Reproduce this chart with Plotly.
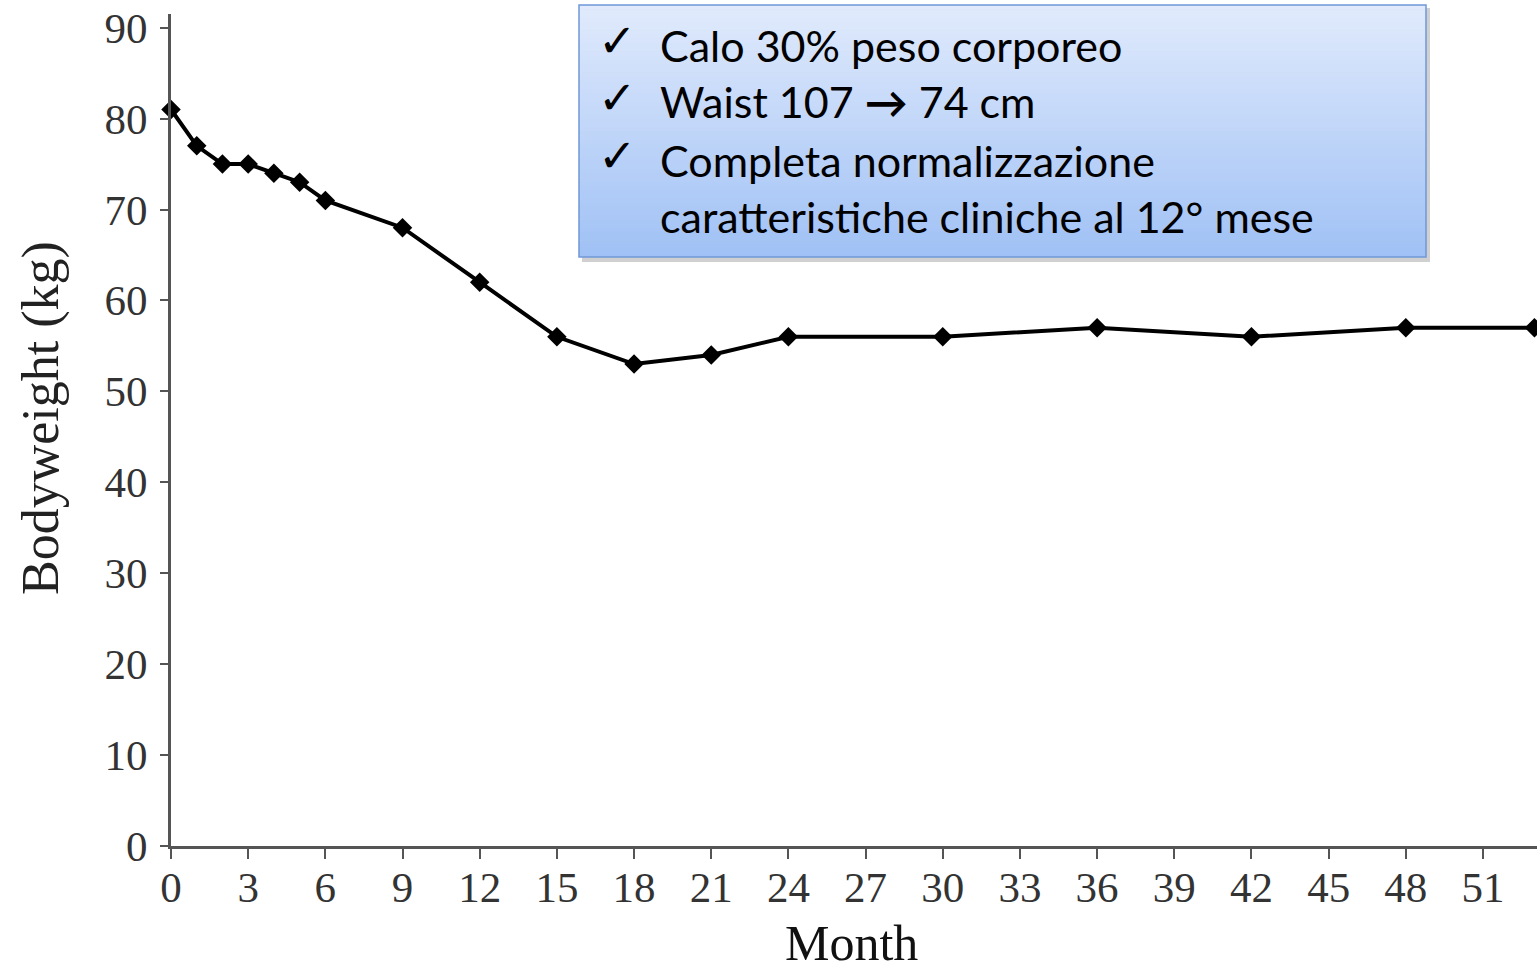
import plotly.graph_objects as go

# ---- data ----
months = [0, 1, 2, 3, 4, 5, 6, 9, 12, 15, 18, 21, 24, 30, 36, 42, 48, 53]
weight = [81, 77, 75, 75, 74, 73, 71, 68, 62, 56, 53, 54, 56, 56, 57, 56, 57, 57]
x_ticks = list(range(0, 52, 3))
y_ticks = list(range(0, 91, 10))
note_lines = ["Calo 30% peso corporeo",
              "Waist 107 <b>\u2192</b> 74 cm",
              "Completa normalizzazione",
              "caratteristiche cliniche al 12\u00b0 mese"]
note_checks = [True, True, True, False]

# ---- layout geometry (pixels) ----
W, H = 1537, 974
L, R, T, B = 171, 0, 14, 128


def fx(p):
    return (p - L) / (W - L - R)


def fy(p):
    return (H - B - p) / (H - T - B)


fig = go.Figure()
fig.add_trace(go.Scatter(
    x=months, y=weight, mode="lines+markers",
    line=dict(color="black", width=4),
    marker=dict(symbol="diamond", size=15, color="black"),
    showlegend=False, cliponaxis=False,
))

tick_font = dict(family="Liberation Serif, Times New Roman, serif", size=43, color="#333333")

fig.update_xaxes(
    range=[0, 53.1], tickvals=x_ticks, ticktext=[str(v) for v in x_ticks],
    showgrid=False, zeroline=False, showline=True, linecolor="#555555", linewidth=3,
    ticks="outside", ticklen=10, tickwidth=2, tickcolor="#555555",
    tickfont=tick_font, ticklabelstandoff=-9,
)
fig.update_yaxes(
    range=[0, 91.5], tickvals=y_ticks, ticktext=[str(v) for v in y_ticks],
    showgrid=False, zeroline=False, showline=True, linecolor="#555555", linewidth=3,
    ticks="outside", ticklen=8, tickwidth=2, tickcolor="#555555",
    tickfont=tick_font, ticklabelstandoff=4,
)

shapes = []
bx0, bx1, by0, by1 = 579, 1426, 5, 257
shapes.append(dict(type="rect", xref="paper", yref="paper",
                   x0=fx(bx0 + 3), x1=fx(bx1 + 4), y0=fy(by0 + 3), y1=fy(by1 + 5),
                   fillcolor="rgba(120,120,120,0.35)", line=dict(width=0), layer="above"))
n = 60
c0 = (224, 234, 252)
c1 = (160, 193, 245)
for i in range(n):
    t = i / (n - 1)
    col = tuple(round(c0[k] + (c1[k] - c0[k]) * t) for k in range(3))
    ya = by0 + (by1 - by0) * i / n
    yb = by0 + (by1 - by0) * (i + 1) / n + 0.6
    shapes.append(dict(type="rect", xref="paper", yref="paper",
                       x0=fx(bx0), x1=fx(bx1), y0=fy(ya), y1=fy(min(yb, by1)),
                       fillcolor="rgb(%d,%d,%d)" % col, line=dict(width=0), layer="above"))
shapes.append(dict(type="rect", xref="paper", yref="paper",
                   x0=fx(bx0), x1=fx(bx1), y0=fy(by0), y1=fy(by1),
                   fillcolor="rgba(0,0,0,0)", line=dict(color="#6f98d6", width=1.5), layer="above"))

annotations = []
line_y = [45, 102, 160, 217]
text_font = dict(family="Lato, Open Sans, sans-serif", size=43, color="black")
for i, (txt, chk) in enumerate(zip(note_lines, note_checks)):
    annotations.append(dict(xref="paper", yref="paper", x=fx(658), y=fy(line_y[i]),
                            xanchor="left", yanchor="middle", text=txt, showarrow=False,
                            font=text_font))
    if chk:
        annotations.append(dict(xref="paper", yref="paper", x=fx(617), y=fy(line_y[i] - 4),
                                xanchor="center", yanchor="middle", text="\u2713", showarrow=False,
                                font=dict(family="DejaVu Sans", size=46, color="black")))

annotations.append(dict(xref="paper", yref="paper", x=fx(851), y=fy(943),
                        xanchor="center", yanchor="middle", text="Month", showarrow=False,
                        font=dict(family="Liberation Serif, serif", size=50, color="#111111")))
annotations.append(dict(xref="paper", yref="paper", x=fx(41), y=fy(418),
                        xanchor="center", yanchor="middle", text="Bodyweight (kg)", showarrow=False,
                        textangle=-90,
                        font=dict(family="Liberation Serif, serif", size=52, color="#222222")))

fig.update_layout(
    width=W, height=H, margin=dict(l=L, r=R, t=T, b=B, pad=0),
    paper_bgcolor="white", plot_bgcolor="white",
    shapes=shapes, annotations=annotations,
)

fig.write_html("out.html", config={"displayModeBar": False},
               post_script="document.body.style.margin='0';")
